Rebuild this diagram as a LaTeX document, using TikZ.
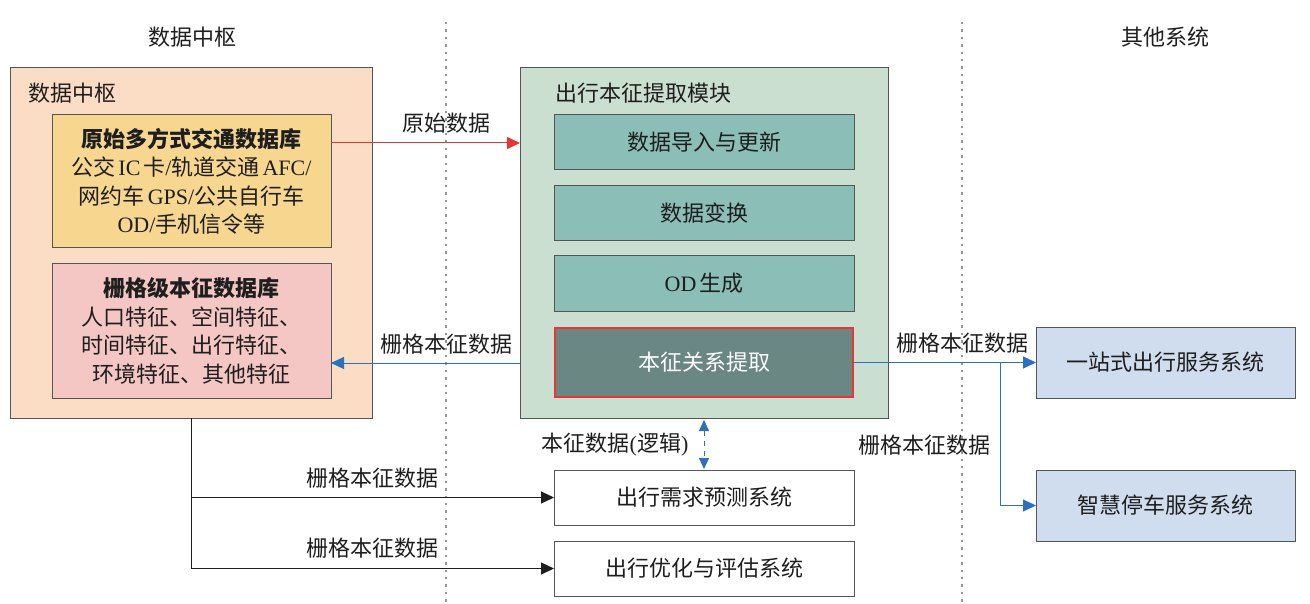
\documentclass[tikz,border=0pt]{standalone}
\usepackage{fontspec}
\setmainfont{Noto Sans CJK SC}
\newfontfamily\lat{Liberation Serif}
\usetikzlibrary{arrows.meta}
\definecolor{peach}{RGB}{251,220,196}
\definecolor{ylw}{RGB}{247,214,144}
\definecolor{pnk}{RGB}{244,199,196}
\definecolor{grn}{RGB}{203,223,208}
\definecolor{teal2}{RGB}{139,190,183}
\definecolor{dteal}{RGB}{106,135,132}
\definecolor{lblue}{RGB}{207,221,238}
\definecolor{redl}{RGB}{232,52,52}
\definecolor{bluel}{RGB}{44,112,190}
\definecolor{bord}{RGB}{85,85,85}
\definecolor{txt}{RGB}{30,30,30}
\newcommand{\ls}{\hspace{3pt}}
\begin{document}
\begin{tikzpicture}[x=1pt,y=-1pt,
  every node/.style={inner sep=0pt,outer sep=0pt,text=txt,font=\fontsize{22}{28.5}\selectfont},
  box/.style={draw=bord,line width=1pt,align=center},
  lbl/.style={font=\fontsize{22}{26}\selectfont},
  redarr/.style={draw=redl,line width=1pt,-{Triangle[length=13pt,width=12pt]}},
  bluearr/.style={draw=bluel,line width=1pt,-{Triangle[length=13pt,width=12pt]}},
  blkarr/.style={draw=txt,line width=1pt,-{Triangle[length=13pt,width=12pt]}},
  sep/.style={draw={rgb,255:red,150;green,150;blue,150},line width=2.4pt,dash pattern=on 2.4pt off 5pt}
]
\useasboundingbox (0,0) rectangle (1310,604);
% separators
\draw[sep] (446,22) -- (446,604);
\draw[sep] (962,22) -- (962,604);
\node (h1) at (192,37) {数据中枢};
\node (h2) at (1165,37) {其他系统};
% left hub
\node[box,fill=peach,minimum width=362pt,minimum height=350pt] (outer) at (191,243) {};
\node[anchor=west] (t1) at (28,93) {数据中枢};
\node[box,fill=ylw,minimum width=279pt,minimum height=133pt] (yellow) at (191.5,181.5)
 {{\bfseries 原始多方式交通数据库}\\公交\ls{\lat IC}\ls 卡{\lat /}轨道交通\ls{\lat AFC/}\\网约车\ls{\lat GPS/}公共自行车\\{\lat OD/}手机信令等};
\node[box,fill=pnk,minimum width=279pt,minimum height=134pt] (pink) at (191.5,331)
 {{\bfseries 栅格级本征数据库}\\人口特征、空间特征、\\时间特征、出行特征、\\环境特征、其他特征};
% middle module
\node[box,fill=grn,minimum width=368pt,minimum height=350pt] (mid) at (704,243) {};
\node[anchor=west] (t2) at (555,93) {出行本征提取模块};
\node[box,fill=teal2,minimum width=300pt,minimum height=55pt] (b1) at (704,142.5) {数据导入与更新};
\node[box,fill=teal2,minimum width=300pt,minimum height=55pt] (b2) at (704,213.5) {数据变换};
\node[box,fill=teal2,minimum width=300pt,minimum height=55pt] (b3) at (704,283.5) {{\lat OD}\ls 生成};
\node[box,draw=redl,line width=2pt,fill=dteal,minimum width=298pt,minimum height=69pt,text=white] (rel) at (704,362.5) {本征关系提取};
% right systems
\node[box,fill=lblue,minimum width=259pt,minimum height=71pt] (one) at (1165.5,362.5) {一站式出行服务系统};
\node[box,fill=lblue,minimum width=259pt,minimum height=71pt] (park) at (1165.5,505.5) {智慧停车服务系统};
% bottom systems
\node[box,fill=white,minimum width=300pt,minimum height=55pt] (demand) at (704,497.5) {出行需求预测系统};
\node[box,fill=white,minimum width=300pt,minimum height=55pt] (opt) at (704,568.5) {出行优化与评估系统};
% connectors
\draw[redarr] ([yshift=38.5pt]yellow.east) coordinate (r1) -- (r1 -| mid.west);
\node[lbl] (l1) at (446,123) {原始数据};
\coordinate (r2) at ([yshift=-32pt]pink.east);
\draw[bluearr] (r2 -| mid.west) -- (r2);
\node[lbl] (l2) at (446,344) {栅格本征数据};
\draw[bluearr] (rel.east) -- (one.west);
\node[lbl] (l3) at (962,343) {栅格本征数据};
\coordinate (br) at (1000,362.5);
\draw[bluearr] (br) |- (park.west);
\node[lbl] (l4) at (924,445) {栅格本征数据};
\draw[blkarr] (outer.south) |- (demand.west);
\draw[blkarr] (outer.south) |- (opt.west);
\node[lbl] (l5) at (372,478) {栅格本征数据};
\node[lbl] (l6) at (372,548) {栅格本征数据};
\draw[draw=bluel,line width=1pt,dash pattern=on 5pt off 5pt,{Triangle[length=11pt,width=10pt]}-{Triangle[length=11pt,width=10pt]}] ([yshift=-2pt]mid.south) -- ([yshift=1pt]demand.north);
\node[lbl] (l7) at (615,445) {本征数据{\lat (}逻辑{\lat )}};
\end{tikzpicture}
\end{document}
